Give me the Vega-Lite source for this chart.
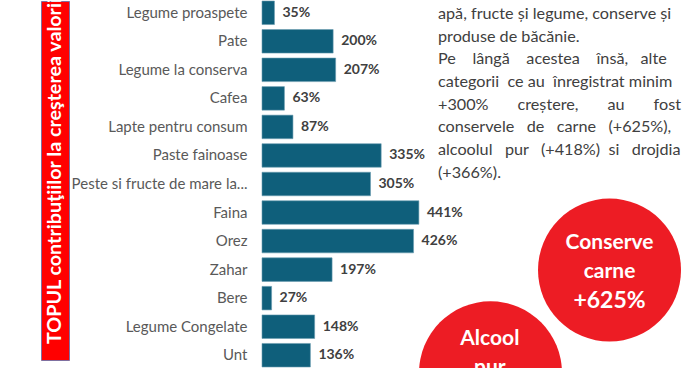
{
  "$schema": "https://vega.github.io/schema/vega-lite/v6.json",
  "padding": {"left": 40, "top": 0, "right": 0, "bottom": 0},
  "spacing": 193,
  "bounds": "flush",
  "config": {"view": {"stroke": null}, "font": "Lato"},
  "hconcat": [
    {
      "width": 28,
      "height": 359,
      "view": {"fill": "#ff0000", "stroke": "#7f70a0", "strokeWidth": 1},
      "data": {"values": [{"title": "TOPUL contribuţiilor la creşterea valorii vânzărilor"}]},
      "mark": {"type": "text", "angle": 270, "align": "left", "baseline": "middle", "color": "white", "font": "Lato", "fontWeight": "bold", "fontSize": 19.7, "clip": true, "dx": -163.5},
      "encoding": {"text": {"field": "title"}}
    },
    {
      "width": 439,
      "height": 368,
      "layer": [
        {
          "data": {"values": [
            {"cat": "Legume proaspete", "pct": 0.35},
            {"cat": "Pate", "pct": 2.00},
            {"cat": "Legume la conserva", "pct": 2.07},
            {"cat": "Cafea", "pct": 0.63},
            {"cat": "Lapte pentru consum", "pct": 0.87},
            {"cat": "Paste fainoase", "pct": 3.35},
            {"cat": "Peste si fructe de mare la...", "pct": 3.05},
            {"cat": "Faina", "pct": 4.41},
            {"cat": "Orez", "pct": 4.26},
            {"cat": "Zahar", "pct": 1.97},
            {"cat": "Bere", "pct": 0.27},
            {"cat": "Legume Congelate", "pct": 1.48},
            {"cat": "Unt", "pct": 1.36}
          ]},
          "encoding": {
            "y": {"field": "cat", "type": "nominal", "sort": null,
                  "scale": {"range": [0, 366], "paddingInner": 0.175, "paddingOuter": 0},
                  "axis": {"title": null, "ticks": false, "domain": false, "grid": false, "labelPadding": 15, "labelFont": "Lato", "labelFontSize": 15, "labelColor": "#595959", "labelLimit": 400}},
            "x": {"field": "pct", "type": "quantitative", "scale": {"domain": [0, 12.34], "nice": false}, "axis": null}
          },
          "layer": [
            {"mark": {"type": "bar", "color": "#0f5f7b", "stroke": "#6a9cb0", "strokeWidth": 0.6}},
            {"mark": {"type": "text", "align": "left", "baseline": "middle", "dx": 8, "font": "Lato", "fontWeight": "bold", "fontSize": 14, "color": "#404040"},
             "encoding": {"text": {"field": "pct", "format": ".0%"}}}
          ]
        },
        {
          "layer": [
            {
              "data": {"values": [
                {"line": 1, "text": "apă, fructe și legume, conserve și"},
                {"line": 2, "text": "produse de băcănie."},
                {"line": 3, "text": "Pe\u00a0\u00a0\u00a0\u00a0lângă\u00a0\u00a0\u00a0\u00a0acestea\u00a0\u00a0\u00a0\u00a0însă,\u00a0\u00a0\u00a0alte"},
                {"line": 4, "text": "categorii\u00a0\u00a0ce au\u00a0\u00a0înregistrat minim"},
                {"line": 5, "text": "+300%\u00a0\u00a0\u00a0\u00a0\u00a0\u00a0\u00a0creștere,\u00a0\u00a0\u00a0\u00a0\u00a0\u00a0\u00a0au\u00a0\u00a0\u00a0\u00a0\u00a0\u00a0\u00a0fost"},
                {"line": 6, "text": "conservele\u00a0\u00a0\u00a0de\u00a0\u00a0\u00a0carne\u00a0\u00a0\u00a0(+625%),"},
                {"line": 7, "text": "alcoolul\u00a0\u00a0\u00a0pur\u00a0\u00a0\u00a0(+418%)\u00a0\u00a0si\u00a0\u00a0\u00a0drojdia"},
                {"line": 8, "text": "(+366%)."}
              ]},
              "mark": {"type": "text", "align": "left", "baseline": "middle", "font": "Lato", "fontSize": 16.2, "color": "#404040"},
              "encoding": {
                "x": {"datum": 40.09, "type": "quantitative", "scale": {"domain": [0, 100], "nice": false, "zero": false}, "axis": null},
                "y": {"field": "line", "type": "quantitative", "scale": {"domain": [0.427, 16.64], "nice": false, "zero": false, "reverse": true}, "axis": null},
                "text": {"field": "text"}
              }
            },
            {
              "data": {"values": [{}]},
              "mark": {"type": "point", "shape": "circle", "filled": true, "size": 20449, "color": "#ed1c24", "opacity": 1, "clip": true},
              "encoding": {
                "x": {"datum": 79.16, "type": "quantitative", "scale": {"domain": [0, 100], "nice": false, "zero": false}, "axis": null},
                "y": {"datum": 12.28, "type": "quantitative", "scale": {"domain": [0.427, 16.64], "nice": false, "zero": false, "reverse": true}, "axis": null}
              }
            },
            {
              "data": {"values": [{}]},
              "mark": {"type": "point", "shape": "circle", "filled": true, "size": 20449, "color": "#ed1c24", "opacity": 1, "clip": true},
              "encoding": {
                "x": {"datum": 52.05, "type": "quantitative", "scale": {"domain": [0, 100], "nice": false, "zero": false}, "axis": null},
                "y": {"datum": 16.81, "type": "quantitative", "scale": {"domain": [0.427, 16.64], "nice": false, "zero": false, "reverse": true}, "axis": null}
              }
            },
            {
              "data": {"values": [{}]},
              "mark": {"type": "text", "text": "Conserve", "align": "center", "baseline": "middle", "font": "Lato", "fontWeight": "bold", "fontSize": 21, "color": "white"},
              "encoding": {
                "x": {"datum": 79.16, "type": "quantitative", "scale": {"domain": [0, 100], "nice": false, "zero": false}, "axis": null},
                "y": {"datum": 11.09, "type": "quantitative", "scale": {"domain": [0.427, 16.64], "nice": false, "zero": false, "reverse": true}, "axis": null}
              }
            },
            {
              "data": {"values": [{}]},
              "mark": {"type": "text", "text": "carne", "align": "center", "baseline": "middle", "font": "Lato", "fontWeight": "bold", "fontSize": 21, "color": "white"},
              "encoding": {
                "x": {"datum": 79.16, "type": "quantitative", "scale": {"domain": [0, 100], "nice": false, "zero": false}, "axis": null},
                "y": {"datum": 12.37, "type": "quantitative", "scale": {"domain": [0.427, 16.64], "nice": false, "zero": false, "reverse": true}, "axis": null}
              }
            },
            {
              "data": {"values": [{}]},
              "mark": {"type": "text", "text": "+625%", "align": "center", "baseline": "middle", "font": "Lato", "fontWeight": "bold", "fontSize": 23, "color": "white"},
              "encoding": {
                "x": {"datum": 79.16, "type": "quantitative", "scale": {"domain": [0, 100], "nice": false, "zero": false}, "axis": null},
                "y": {"datum": 13.64, "type": "quantitative", "scale": {"domain": [0.427, 16.64], "nice": false, "zero": false, "reverse": true}, "axis": null}
              }
            },
            {
              "data": {"values": [{}]},
              "mark": {"type": "text", "text": "Alcool", "align": "center", "baseline": "middle", "font": "Lato", "fontWeight": "bold", "fontSize": 21, "color": "white"},
              "encoding": {
                "x": {"datum": 51.9, "type": "quantitative", "scale": {"domain": [0, 100], "nice": false, "zero": false}, "axis": null},
                "y": {"datum": 15.33, "type": "quantitative", "scale": {"domain": [0.427, 16.64], "nice": false, "zero": false, "reverse": true}, "axis": null}
              }
            },
            {
              "data": {"values": [{}]},
              "mark": {"type": "text", "text": "pur", "align": "center", "baseline": "middle", "font": "Lato", "fontWeight": "bold", "fontSize": 21, "color": "white", "clip": true},
              "encoding": {
                "x": {"datum": 51.9, "type": "quantitative", "scale": {"domain": [0, 100], "nice": false, "zero": false}, "axis": null},
                "y": {"datum": 16.6, "type": "quantitative", "scale": {"domain": [0.427, 16.64], "nice": false, "zero": false, "reverse": true}, "axis": null}
              }
            }
          ]
        }
      ],
      "resolve": {"scale": {"x": "independent", "y": "independent"}}
    }
  ]
}
